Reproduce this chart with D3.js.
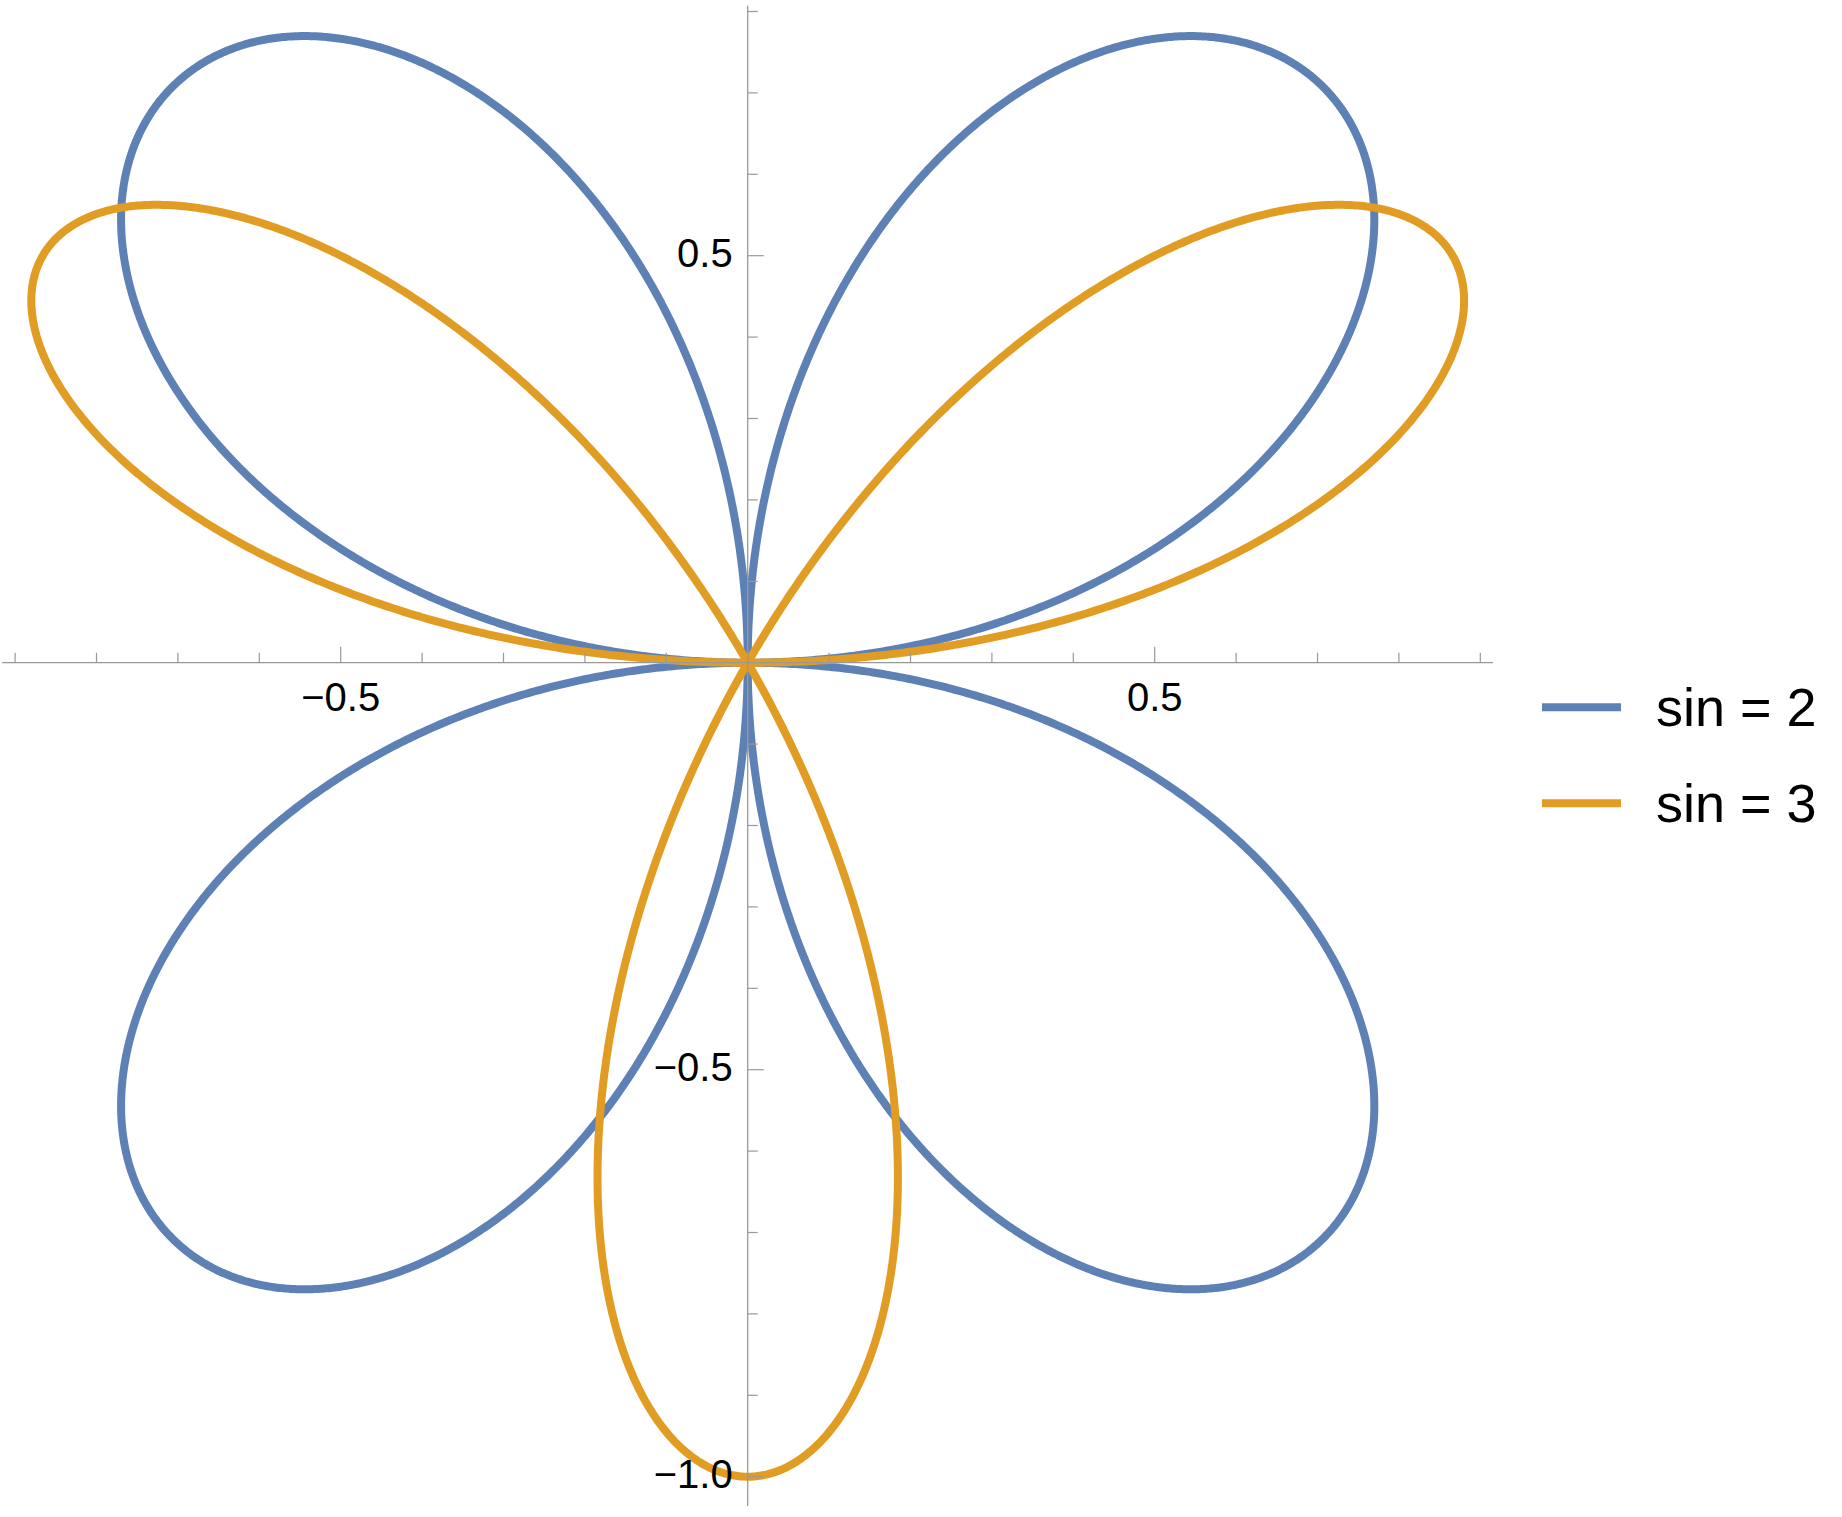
<!DOCTYPE html>
<html>
<head>
<meta charset="utf-8">
<script src="https://cdn.jsdelivr.net/npm/d3@7"></script>
<style>
  html, body { margin: 0; padding: 0; background: #fff; }
  svg { display: block; }
  text { font-family: "Liberation Sans", Arial, sans-serif; fill: #000; }
</style>
</head>
<body>
<svg id="chart" width="1842" height="1517"></svg>
<script>
// Series: rose curves r = sin(k * theta), one per frequency k
const seriesK = [2, 3];
const seriesLabels = ["sin = 2", "sin = 3"];
const seriesColors = ["#5E81B5", "#E19C24"];

// Axis ticks
const xMajorTicks = [-0.5, 0.5];
const xMinorTicks = [-0.9, -0.8, -0.7, -0.6, -0.4, -0.3, -0.2, -0.1, 0.1, 0.2, 0.3, 0.4, 0.6, 0.7, 0.8, 0.9];
const yMajorTicks = [0.5, -0.5, -1.0];
const yMinorTicks = [0.8, 0.7, 0.6, 0.4, 0.3, 0.2, 0.1, -0.1, -0.2, -0.3, -0.4, -0.6, -0.7, -0.8, -0.9];

const xDomain = [-0.916, 0.9156];
const yDomain = [-1.036, 0.807];

const svg = d3.select("#chart");
const unit = 814;
const ox = 747.7, oy = 662.7;
const x = d3.scaleLinear().domain(xDomain).range([ox + xDomain[0] * unit, ox + xDomain[1] * unit]);
const y = d3.scaleLinear().domain(yDomain).range([oy - yDomain[0] * unit, oy - yDomain[1] * unit]);

// Curves
const N = 3000;
const thetas = d3.range(N + 1).map(i => i / N * 2 * Math.PI);
const line = d3.line().x(d => x(d[0])).y(d => y(d[1]));
const gCurves = svg.append("g");
seriesK.forEach((k, i) => {
  const pts = thetas.map(t => {
    const r = Math.sin(k * t);
    return [r * Math.cos(t), r * Math.sin(t)];
  });
  gCurves.append("path")
    .attr("d", line(pts))
    .attr("fill", "none")
    .attr("stroke", seriesColors[i])
    .attr("stroke-width", 8)
    .attr("stroke-linejoin", "round");
});

// Axes
const axisColor = "#999";
const gAx = svg.append("g");
gAx.append("line").attr("x1", x(xDomain[0])).attr("x2", x(xDomain[1]))
  .attr("y1", y(0)).attr("y2", y(0)).attr("stroke", axisColor).attr("stroke-width", 1.3);
gAx.append("line").attr("y1", y(yDomain[0])).attr("y2", y(yDomain[1]))
  .attr("x1", x(0)).attr("x2", x(0)).attr("stroke", axisColor).attr("stroke-width", 1.3);

gAx.selectAll(".xmin").data(xMinorTicks).enter().append("line")
  .attr("x1", d => x(d)).attr("x2", d => x(d))
  .attr("y1", y(0)).attr("y2", y(0) - 10)
  .attr("stroke", axisColor).attr("stroke-width", 1.2);
gAx.selectAll(".xmaj").data(xMajorTicks).enter().append("line")
  .attr("x1", d => x(d)).attr("x2", d => x(d))
  .attr("y1", y(0)).attr("y2", y(0) - 16)
  .attr("stroke", axisColor).attr("stroke-width", 1.2);
gAx.selectAll(".ymin").data(yMinorTicks).enter().append("line")
  .attr("y1", d => y(d)).attr("y2", d => y(d))
  .attr("x1", x(0)).attr("x2", x(0) + 10)
  .attr("stroke", axisColor).attr("stroke-width", 1.2);
gAx.selectAll(".ymaj").data(yMajorTicks).enter().append("line")
  .attr("y1", d => y(d)).attr("y2", d => y(d))
  .attr("x1", x(0)).attr("x2", x(0) + 16)
  .attr("stroke", axisColor).attr("stroke-width", 1.2);

const fmt = v => (v < 0 ? "\u2212" : "") + Math.abs(v).toFixed(1);
gAx.selectAll(".xlab").data(xMajorTicks).enter().append("text")
  .attr("x", d => x(d)).attr("y", y(0) + 48)
  .attr("text-anchor", "middle").attr("font-size", 40)
  .text(fmt);
gAx.selectAll(".ylab").data(yMajorTicks).enter().append("text")
  .attr("x", x(0) - 15).attr("y", d => y(d) + 11)
  .attr("text-anchor", "end").attr("font-size", 40)
  .text(fmt);

// Legend
const gLeg = svg.append("g");
seriesLabels.forEach((lab, i) => {
  const cy = 707.3 + i * 96;
  gLeg.append("line").attr("x1", 1542).attr("x2", 1621)
    .attr("y1", cy).attr("y2", cy)
    .attr("stroke", seriesColors[i]).attr("stroke-width", 8);
  gLeg.append("text").attr("x", 1656).attr("y", cy + 18.5)
    .attr("font-size", 54).text(lab);
});
</script>
</body>
</html>
